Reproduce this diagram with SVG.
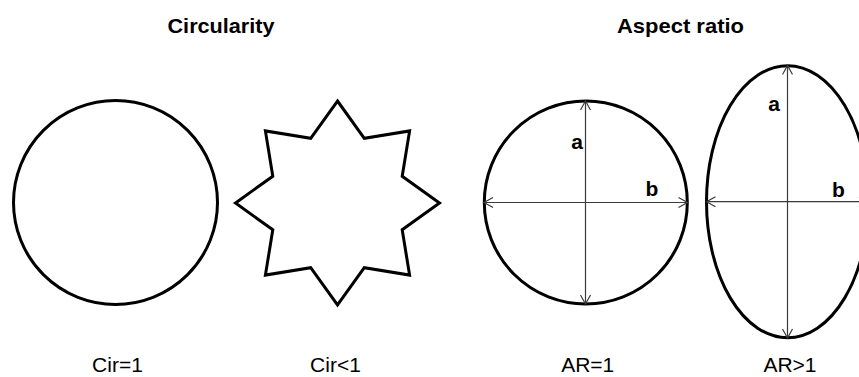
<svg xmlns="http://www.w3.org/2000/svg" width="859" height="377" viewBox="0 0 859 377">
<style>
.shape{fill:none;stroke:#000;stroke-width:3;stroke-linejoin:miter}
.dim{fill:none;stroke:#3a3a3a;stroke-width:1.2}
.title{font-family:"Liberation Sans",Arial,sans-serif;font-weight:bold;font-size:21px;fill:#000;text-anchor:middle}
.lbl{font-family:"Liberation Sans",Arial,sans-serif;font-size:21px;fill:#000;text-anchor:middle}
.ab{font-family:"Liberation Sans",Arial,sans-serif;font-weight:bold;font-size:21px;fill:#000;text-anchor:middle}
</style>
<defs>
<marker id="arr" markerUnits="userSpaceOnUse" markerWidth="12" markerHeight="12" refX="10" refY="6" orient="auto-start-reverse" viewBox="0 0 12 12">
<path d="M1,1 L10,6 L1,11" fill="none" stroke="#3a3a3a" stroke-width="1.2"/>
</marker>
</defs>
<rect width="859" height="377" fill="#fff"/>
<text class="title" x="221" y="33" textLength="107" lengthAdjust="spacingAndGlyphs">Circularity</text>
<text class="title" x="680.5" y="33" textLength="127" lengthAdjust="spacingAndGlyphs">Aspect ratio</text>
<g id="circle1">
<circle class="shape" cx="115.5" cy="202.5" r="102"/>
<text class="lbl" x="117.5" y="372">Cir=1</text>
</g>
<g id="star">
<polygon class="shape" points="337.5,101 364.3,138.3 409.6,130.9 402.2,176.2 439.5,203 402.2,229.8 409.6,275.1 364.3,267.7 337.5,305 310.7,267.7 265.4,275.1 272.8,229.8 235.5,203 272.8,176.2 265.4,130.9 310.7,138.3"/>
<text class="lbl" x="335.5" y="372">Cir&lt;1</text>
</g>
<g id="circle2">
<circle class="shape" cx="585.8" cy="202.5" r="101.5"/>
<text class="ab" x="577" y="149">a</text>
<text class="ab" x="652" y="195.5">b</text>
<text class="lbl" x="587.7" y="372">AR=1</text>
</g>
<g id="ellipse">
<ellipse class="shape" cx="787.5" cy="201.7" rx="81" ry="136"/>
<text class="ab" x="774" y="110.5">a</text>
<text class="ab" x="838.5" y="197">b</text>
<text class="lbl" x="790" y="372">AR&gt;1</text>
</g>
<g id="connectors">
<line class="dim" x1="585.5" y1="101" x2="585.5" y2="304" marker-start="url(#arr)" marker-end="url(#arr)"/>
<line class="dim" x1="484" y1="202.5" x2="687.5" y2="202.5" marker-start="url(#arr)" marker-end="url(#arr)"/>
<line class="dim" x1="787.5" y1="65.5" x2="787.5" y2="338" marker-start="url(#arr)" marker-end="url(#arr)"/>
<line class="dim" x1="706.5" y1="201.7" x2="868" y2="201.7" marker-start="url(#arr)" marker-end="url(#arr)"/>
</g>
</svg>
